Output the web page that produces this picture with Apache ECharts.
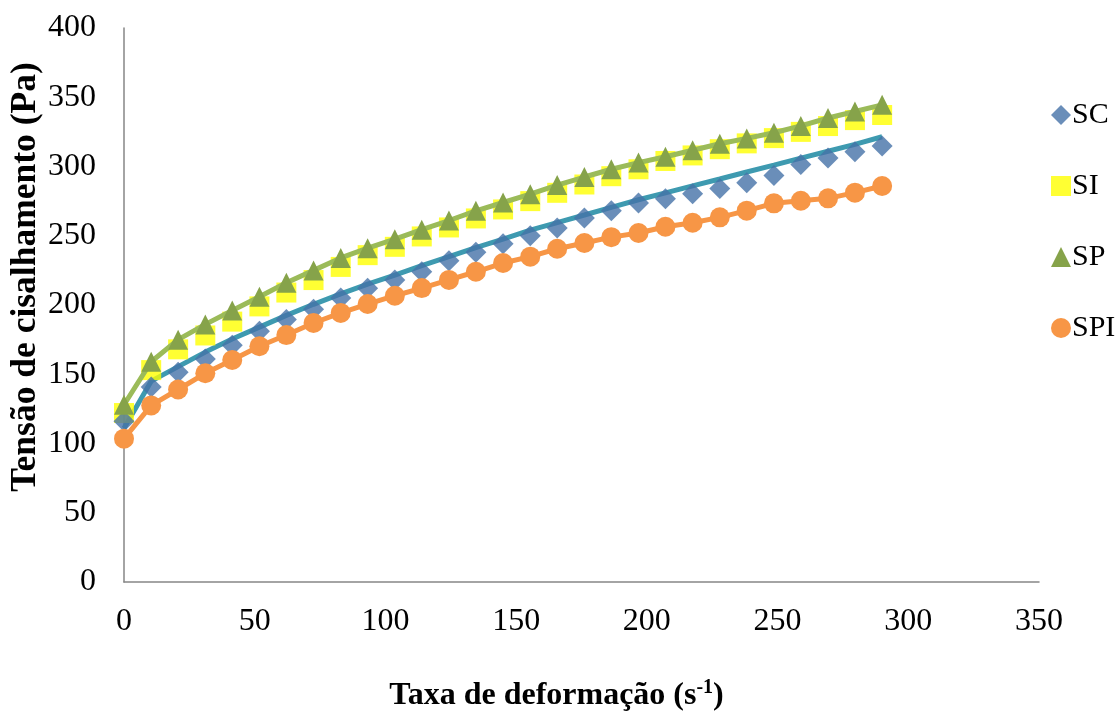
<!DOCTYPE html>
<html>
<head>
<meta charset="utf-8">
<script src="https://cdn.jsdelivr.net/npm/echarts@6/dist/echarts.min.js"></script>
<style>
  html, body { margin: 0; padding: 0; background: #ffffff; }
  #chart { width: 1119px; height: 711px; }
</style>
</head>
<body>
<div id="chart"></div>
<script>
// Shear rate (s^-1)
const shearRate = [0, 10.4, 20.7, 31.1, 41.4, 51.8, 62.1, 72.5, 82.9, 93.2, 103.6, 113.9, 124.3, 134.6, 145.0,
  155.4, 165.7, 176.1, 186.4, 196.8, 207.1, 217.5, 227.9, 238.2, 248.6, 258.9, 269.3, 279.6, 290.0];

// Shear stress (Pa) per sample
const SC = [116, 140.8, 151.5, 161, 171, 181, 189.5, 197, 205, 212.1, 218.1, 224, 232, 238, 244.2,
  250, 255.6, 262.8, 268.1, 273.6, 276.7, 280.3, 284.2, 288.3, 293.5, 301.5, 306.2, 310.7, 314.8];
const SC_fit = [111, 145, 155.5, 166, 175.5, 184, 192.5, 200.5, 208, 215, 221.5, 228.5, 235, 241.5, 247.5,
  254, 259.5, 265, 270.5, 276, 281, 286, 291, 296, 301, 306, 311, 316, 321.5];
const SI = [122, 153, 168, 178, 188, 199, 209, 218, 227.5, 236, 242, 249.5, 256, 262.5, 269,
  275, 281, 287, 293, 298, 304, 308, 312.5, 316.7, 320.5, 325, 329.2, 333.5, 337.2];
const SP = [128, 159, 175, 186, 196, 206, 216, 225, 234, 241, 247.5, 254.4, 261, 268, 274,
  280, 286.6, 292.4, 298, 302.8, 307, 311.7, 316.4, 320.3, 324.4, 329.3, 335, 339.7, 344.5];
const SPI = [103.5, 127.5, 139, 150.7, 160.3, 170.2, 178.3, 187, 194.3, 200.7, 206.7, 212.2, 218.1, 224, 230.3,
  234.9, 240.6, 244.8, 249, 252, 256.5, 259.4, 263.3, 268.1, 273.4, 275.3, 277, 281.1, 285.9];

const xTicks = { min: 0, max: 350, interval: 50 };
const yTicks = { min: 0, max: 400, interval: 50 };

const pairs = (ys) => shearRate.map((x, i) => [x, ys[i]]);
const FONT = '"Liberation Serif", "Times New Roman", serif';

const chart = echarts.init(document.getElementById('chart'), null, { renderer: 'canvas' });

chart.setOption({
  animation: false,
  backgroundColor: '#ffffff',
  grid: { left: 124, right: 80, top: 28, bottom: 129, containLabel: false, outerBoundsMode: 'none' },
  legend: {
    orient: 'vertical',
    left: 1046,
    top: 95,
    itemWidth: 20,
    itemHeight: 20,
    itemGap: 41,
    textStyle: { fontFamily: FONT, fontSize: 30, color: '#000000', padding: [0, 0, 0, -4] },
    data: [
      { name: 'SC', icon: 'diamond', itemStyle: { color: '#4572A7' } },
      { name: 'SI', icon: 'rect', itemStyle: { color: '#FFFF00' } },
      { name: 'SP', icon: 'triangle', itemStyle: { color: '#86A34A' } },
      { name: 'SPI', icon: 'circle', itemStyle: { color: '#F79646' } }
    ]
  },
  xAxis: {
    type: 'value',
    min: xTicks.min, max: xTicks.max, interval: xTicks.interval,
    name: 'Taxa de deformação (s{sup|-1})',
    nameLocation: 'middle',
    nameGap: 96,
    nameMoveOverlap: false,
    nameTextStyle: {
      fontFamily: FONT, fontSize: 32, fontWeight: 'bold', color: '#000000',
      padding: [0, 50, 0, 0],
      rich: { sup: { fontFamily: FONT, fontSize: 20, fontWeight: 'bold', padding: [0, 0, 15, 0] } }
    },
    axisLine: { show: true, lineStyle: { color: '#868686', width: 1.5 } },
    axisTick: { show: false },
    splitLine: { show: false },
    axisLabel: { fontFamily: FONT, fontSize: 32, color: '#000000', margin: 24 }
  },
  yAxis: {
    type: 'value',
    min: yTicks.min, max: yTicks.max, interval: yTicks.interval,
    name: 'Tensão de cisalhamento (Pa)',
    nameLocation: 'middle',
    nameGap: 80,
    nameMoveOverlap: false,
    nameTextStyle: {
      fontFamily: FONT, fontSize: 35.5, fontWeight: 'bold', color: '#000000',
      padding: [0, 0, 0, 56]
    },
    axisLine: { show: true, lineStyle: { color: '#868686', width: 1.5 } },
    axisTick: { show: false },
    splitLine: { show: false },
    axisLabel: { fontFamily: FONT, fontSize: 32, color: '#000000', margin: 28 }
  },
  series: [
    {
      name: 'SC ajuste',
      type: 'line',
      data: pairs(SC_fit),
      showSymbol: false,
      symbol: 'none',
      lineStyle: { color: '#3E9AB0', width: 5 },
      z: 2
    },
    {
      name: 'SC',
      type: 'scatter',
      data: pairs(SC),
      symbol: 'diamond',
      symbolSize: 21,
      itemStyle: { color: '#4572A7' },
      z: 3
    },
    {
      name: 'SI',
      type: 'scatter',
      data: pairs(SI),
      symbol: 'rect',
      symbolSize: 20,
      itemStyle: { color: '#FFFF00' },
      z: 2
    },
    {
      name: 'SP',
      type: 'line',
      data: pairs(SP),
      symbol: 'triangle',
      symbolSize: 20,
      showAllSymbol: true,
      lineStyle: { color: '#9BBB59', width: 5 },
      itemStyle: { color: '#86A34A' },
      z: 4
    },
    {
      name: 'SPI',
      type: 'line',
      data: pairs(SPI),
      symbol: 'circle',
      symbolSize: 20,
      showAllSymbol: true,
      lineStyle: { color: '#F79646', width: 5 },
      itemStyle: { color: '#F79646' },
      z: 5
    }
  ]
});
</script>
</body>
</html>
